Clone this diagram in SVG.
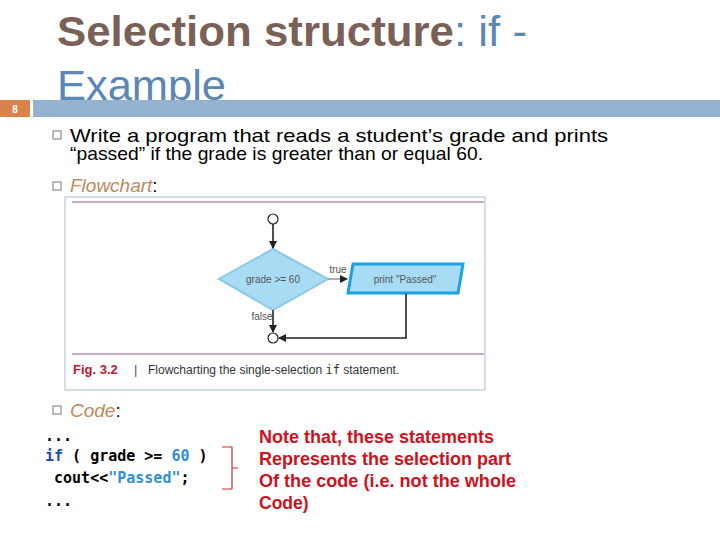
<svg xmlns="http://www.w3.org/2000/svg" width="720" height="540" viewBox="0 0 720 540">
<style>
.t{font-family:"Liberation Sans",Arial,sans-serif}
.b{font-size:19px;fill:#000}
.sq{fill:none;stroke:#777;stroke-width:1}
.code{font-family:"DejaVu Sans Mono",monospace;font-size:15px;font-weight:bold}
.red{font-family:"Liberation Sans",Arial,sans-serif;font-size:17.5px;font-weight:bold;fill:#d0101a}
.ln{stroke:#222;stroke-width:1.6;fill:none}
.fc{font-family:"Liberation Sans",Arial,sans-serif;font-size:10px;fill:#555}
</style>
<defs>
<marker id="ah" markerWidth="8" markerHeight="8" refX="7" refY="4" orient="auto" markerUnits="userSpaceOnUse"><path d="M0,0 L8,4 L0,8 z" fill="#222"/></marker>
</defs>
<rect width="720" height="540" fill="#fff"/>
<g id="title">
<text class="t" x="57" y="46" font-size="42" textLength="470" lengthAdjust="spacingAndGlyphs"><tspan font-weight="bold" fill="#7a6158">Selection structure</tspan><tspan fill="#5b87b5">: if -</tspan></text>
<text class="t" x="57" y="100" font-size="42" fill="#5b87b5" textLength="169" lengthAdjust="spacingAndGlyphs">Example</text>
<rect x="0" y="100" width="30" height="17" fill="#d9824a"/>
<text class="t" x="15" y="113" font-size="10" font-weight="bold" fill="#fff" text-anchor="middle">8</text>
<rect x="33" y="100" width="687" height="17" fill="#94b3d1"/>
</g>
<g id="bullets">
<rect class="sq" x="53" y="131" width="8" height="8"/>
<text class="t b" x="70" y="142" textLength="538" lengthAdjust="spacingAndGlyphs">Write a program that reads a student’s grade and prints</text>
<text class="t b" x="70" y="160" textLength="413" lengthAdjust="spacingAndGlyphs">“passed” if the grade is greater than or equal 60.</text>
<rect class="sq" x="53" y="182" width="8" height="8"/>
<text class="t b" x="70" y="192"><tspan font-style="italic" fill="#c0895a">Flowchart</tspan>:</text>
<rect class="sq" x="53" y="406" width="8" height="8"/>
<text class="t b" x="70" y="417"><tspan font-style="italic" fill="#c0895a">Code</tspan>:</text>
</g>
<g id="figure">
<rect x="65" y="197" width="420" height="193" fill="#fff" stroke="#b8c8d4" stroke-width="1.2"/>
<line x1="72" y1="202" x2="484" y2="202" stroke="#8a5a9a" stroke-width="1"/>
<line x1="72" y1="354" x2="484" y2="354" stroke="#8a5a9a" stroke-width="1"/>
<text class="t" x="73" y="374" font-size="13" font-weight="bold" fill="#c0152f">Fig. 3.2</text>
<text class="t" x="134" y="374" font-size="13" fill="#555">|</text>
<text class="t" x="148" y="374" font-size="12" fill="#333">Flowcharting the single-selection <tspan font-family="DejaVu Sans Mono,monospace">if</tspan> statement.</text>
</g>
<g id="start"><circle cx="273" cy="219" r="5" fill="#fff" stroke="#222" stroke-width="1.2"/></g>
<g id="decision">
<polygon points="273,249 328,279 273,310 219,279" fill="#a8dcf5" stroke="#8cc8e8" stroke-width="2"/>
<text class="fc" x="273" y="283" text-anchor="middle">grade &gt;= 60</text>
</g>
<g id="print">
<polygon points="353,264 463,264 458,293 348,293" fill="#a8dcf5" stroke="#1ba1e2" stroke-width="3"/>
<text class="fc" x="405" y="283" text-anchor="middle">print "Passed"</text>
</g>
<g id="end"><circle cx="273" cy="338" r="5" fill="#fff" stroke="#222" stroke-width="1.2"/></g>
<g id="connectors">
<line class="ln" x1="273" y1="224" x2="273" y2="248" marker-end="url(#ah)"/>
<line x1="328" y1="279" x2="347" y2="279" stroke="#999" stroke-width="1.6" marker-end="url(#ah)"/>
<line class="ln" x1="273" y1="310" x2="273" y2="332" marker-end="url(#ah)"/>
<polyline class="ln" points="406,294 406,338 279,338" marker-end="url(#ah)"/>
<text class="fc" x="338" y="273" text-anchor="middle">true</text>
<text class="fc" x="262" y="320" text-anchor="middle">false</text>
</g>
<g id="code">
<text class="code" x="45" y="441" fill="#000">...</text>
<text class="code" x="45" y="461" xml:space="preserve"><tspan fill="#1a4fb0">if</tspan> ( grade &gt;= <tspan fill="#2e8fd8">60</tspan> )</text>
<text class="code" x="45" y="483" xml:space="preserve"> cout&lt;&lt;<tspan fill="#2e8fd8">"Passed"</tspan>;</text>
<text class="code" x="45" y="506" fill="#000">...</text>
<path d="M222,447 L232,447 L232,489 L222,489 M232,468 L238,468" fill="none" stroke="#c03030" stroke-width="1.2"/>
</g>
<g id="note">
<text class="red" x="259" y="443" textLength="235" lengthAdjust="spacingAndGlyphs">Note that, these statements</text>
<text class="red" x="259" y="465" textLength="252" lengthAdjust="spacingAndGlyphs">Represents the selection part</text>
<text class="red" x="259" y="487" textLength="257" lengthAdjust="spacingAndGlyphs">Of the code (i.e. not the whole</text>
<text class="red" x="259" y="509">Code)</text>
</g>
</svg>
